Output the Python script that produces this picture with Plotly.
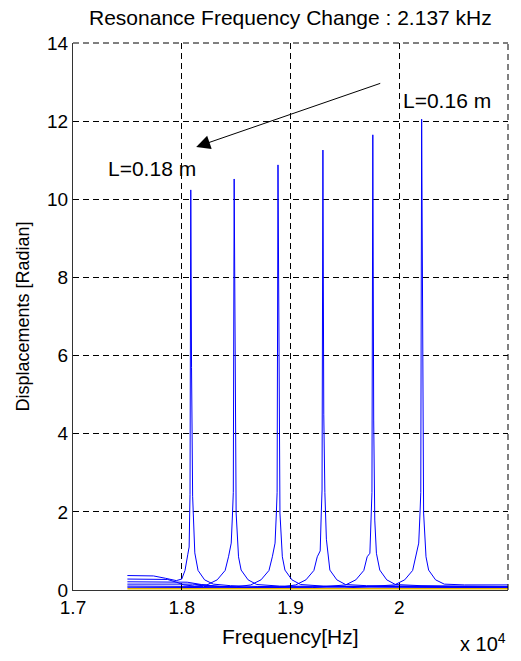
import plotly.graph_objects as go

# ---- data (frequency in Hz, displacement in rad) ----
f1 = [17500, 17740, 17850, 17950, 18000, 18030, 18055, 18068, 18076, 18083, 18090, 18100, 18120, 18150, 18210, 18290, 18450, 18700, 19200, 20000, 21000]
v1 = [0.37, 0.36, 0.30, 0.24, 0.28, 0.50, 0.90, 1.10, 2.45, 10.24, 5.70, 2.40, 0.95, 0.50, 0.26, 0.15, 0.11, 0.09, 0.08, 0.07, 0.06]

f2 = [17500, 17870, 17950, 18020, 18120, 18232, 18326, 18399, 18430, 18455, 18467, 18474, 18482, 18490, 18500, 18522, 18546, 18610, 18690, 18900, 19300, 20000, 21000]
v2 = [0.28, 0.27, 0.20, 0.13, 0.10, 0.13, 0.26, 0.50, 0.85, 1.20, 1.97, 2.50, 10.52, 5.00, 1.97, 0.85, 0.51, 0.26, 0.14, 0.10, 0.09, 0.08, 0.07]

f3 = [17500, 18050, 18180, 18350, 18500, 18635, 18729, 18802, 18833, 18858, 18870, 18877, 18885, 18893, 18903, 18925, 18949, 19013, 19093, 19300, 19700, 20300, 21000]
v3 = [0.21, 0.20, 0.14, 0.09, 0.08, 0.13, 0.26, 0.50, 0.85, 1.20, 1.97, 2.50, 10.88, 4.80, 1.97, 0.85, 0.51, 0.26, 0.14, 0.10, 0.09, 0.08, 0.07]

f4 = [17500, 18100, 18300, 18600, 18900, 19048, 19142, 19215, 19246, 19273, 19283, 19290, 19298, 19306, 19316, 19330, 19362, 19426, 19506, 19700, 20100, 21000]
v4 = [0.15, 0.15, 0.10, 0.07, 0.07, 0.13, 0.26, 0.50, 0.85, 1.00, 1.97, 2.56, 11.26, 4.50, 2.50, 1.30, 0.51, 0.26, 0.14, 0.11, 0.10, 0.08]

f5 = [17500, 18200, 18700, 19200, 19507, 19601, 19674, 19705, 19730, 19742, 19749, 19757, 19765, 19775, 19790, 19821, 19885, 19965, 20200, 20600, 21000]
v5 = [0.10, 0.09, 0.06, 0.06, 0.13, 0.26, 0.50, 0.85, 0.94, 1.79, 2.50, 11.65, 4.35, 1.79, 0.94, 0.51, 0.26, 0.14, 0.11, 0.10, 0.09]

f6 = [17500, 18500, 19500, 19956, 20050, 20123, 20154, 20179, 20191, 20198, 20206, 20214, 20224, 20246, 20270, 20334, 20414, 20600, 21000]
v6 = [0.07, 0.06, 0.05, 0.13, 0.26, 0.50, 0.85, 1.20, 1.97, 2.50, 12.05, 5.00, 1.97, 0.85, 0.51, 0.26, 0.15, 0.13, 0.13]

f_ref = [17500, 21000]
v_ref = [0.03, 0.03]

x_range = [17000, 21000]
y_range = [0, 14]
x_ticks = [17000, 18000, 19000, 20000, 21000]
x_tick_text = ["1.7", "1.8", "1.9", "2", "2.1"]
y_ticks = [0, 2, 4, 6, 8, 10, 12, 14]

FONT = "Liberation Sans, Arial, Helvetica, sans-serif"
DASH = "6px,4px"

fig = go.Figure()
for fx, vy in [(f1, v1), (f2, v2), (f3, v3), (f4, v4), (f5, v5), (f6, v6)]:
    fig.add_trace(go.Scatter(x=fx, y=vy, mode="lines",
                             line=dict(color="#0000FF", width=1), showlegend=False,
                             hoverinfo="skip"))
fig.add_trace(go.Scatter(x=f_ref, y=v_ref, mode="lines",
                         line=dict(color="#E6B400", width=1.5), showlegend=False,
                         hoverinfo="skip"))
# invisible helper trace to carry the mirrored top/right tick axes
fig.add_trace(go.Scatter(x=[x_range[0]], y=[y_range[0]], xaxis="x2", yaxis="y2",
                         mode="markers", marker=dict(opacity=0), showlegend=False,
                         hoverinfo="skip"))

axis_common = dict(showgrid=True, gridcolor="black", griddash=DASH, gridwidth=1,
                   showline=True, linecolor="#333", linewidth=1,
                   ticks="inside", ticklen=5, tickcolor="black",
                   zeroline=False, tickfont=dict(size=19))

fig.update_layout(
    width=521, height=661,
    margin=dict(l=73, r=13, t=43, b=71),
    paper_bgcolor="white", plot_bgcolor="white",
    font=dict(family=FONT, size=19, color="black"),
    showlegend=False,
    xaxis=dict(range=x_range, tickvals=x_ticks, ticktext=x_tick_text, **axis_common),
    yaxis=dict(range=y_range, tickvals=y_ticks, **axis_common),
    xaxis2=dict(range=x_range, tickvals=x_ticks, overlaying="x", side="top",
                showticklabels=False, showgrid=False, showline=False, zeroline=False,
                ticks="inside", ticklen=5, tickcolor="black", anchor="y2"),
    yaxis2=dict(range=y_range, tickvals=y_ticks, overlaying="y", side="right",
                showticklabels=False, showgrid=False, showline=False, zeroline=False,
                ticks="inside", ticklen=5, tickcolor="black", anchor="x2"),
    shapes=[
        dict(type="line", xref="paper", yref="paper", x0=0, x1=1, y0=1, y1=1,
             line=dict(color="black", width=1, dash=DASH)),
        dict(type="line", xref="paper", yref="paper", x0=1, x1=1, y0=0, y1=1,
             line=dict(color="black", width=1, dash=DASH)),
    ],
    annotations=[
        dict(text="Resonance Frequency Change : 2.137 kHz", xref="paper", yref="paper",
             x=0.5, y=1, yshift=26, xanchor="center", yanchor="middle",
             showarrow=False, font=dict(size=21)),
        dict(text="Frequency[Hz]", xref="paper", yref="paper",
             x=0.5, y=0, yshift=-46, xanchor="center", yanchor="middle",
             showarrow=False, font=dict(size=21)),
        dict(text="Displacements [Radian]", xref="paper", yref="paper",
             x=0, y=0.5, xshift=-51, xanchor="center", yanchor="middle", textangle=-90,
             showarrow=False, font=dict(size=18)),
        dict(text="x 10<sup>4</sup>", xref="paper", yref="paper",
             x=1, y=0, yshift=-52, xanchor="right", yanchor="middle",
             showarrow=False, font=dict(size=20)),
        dict(text="L=0.16 m", xref="x", yref="y", x=20436, y=12.54,
             xanchor="center", yanchor="middle", showarrow=False, font=dict(size=21)),
        dict(text="L=0.18 m", xref="x", yref="y", x=17729, y=10.8,
             xanchor="center", yanchor="middle", showarrow=False, font=dict(size=21)),
        dict(text="", xref="x", yref="y", x=18133, y=11.34,
             axref="x", ayref="y", ax=19839, ay=12.98,
             showarrow=True, arrowhead=2, arrowsize=2.8, arrowwidth=1, arrowcolor="black"),
    ],
)

fig.write_html("out.html")
